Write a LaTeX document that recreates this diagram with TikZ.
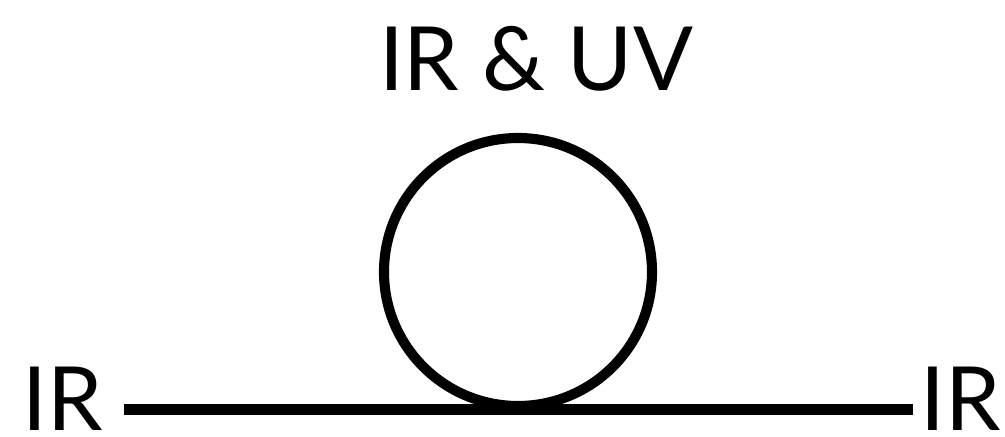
\documentclass[tikz,border=0pt]{standalone}
\usepackage{fontspec}
\usepackage{tikz}
\newfontfamily\labfamily{Lato}
\newcommand{\labfont}{\labfamily\fontsize{63}{70}\selectfont}

\begin{document}
\begin{tikzpicture}[x=0.025cm,y=0.025cm]
\useasboundingbox (0,0) rectangle (1005,436);
\tikzset{lab/.style={inner sep=0pt,font=\labfont},
  prop/.style={line width=7.6pt}}
\node[lab,anchor=base east] (irL) at (103,6) {IR};
\node[lab,anchor=base east] (irR) at (1001,6) {IR};
\node[lab,anchor=base] (top) at (536,346) {IR \& UV};
\coordinate (a) at (124,26.5);
\coordinate (b) at (913,26.5);
\draw[prop] (a)--(b);
\draw[line width=7.2pt] (518,164) circle[radius=134];
\end{tikzpicture}
\end{document}
